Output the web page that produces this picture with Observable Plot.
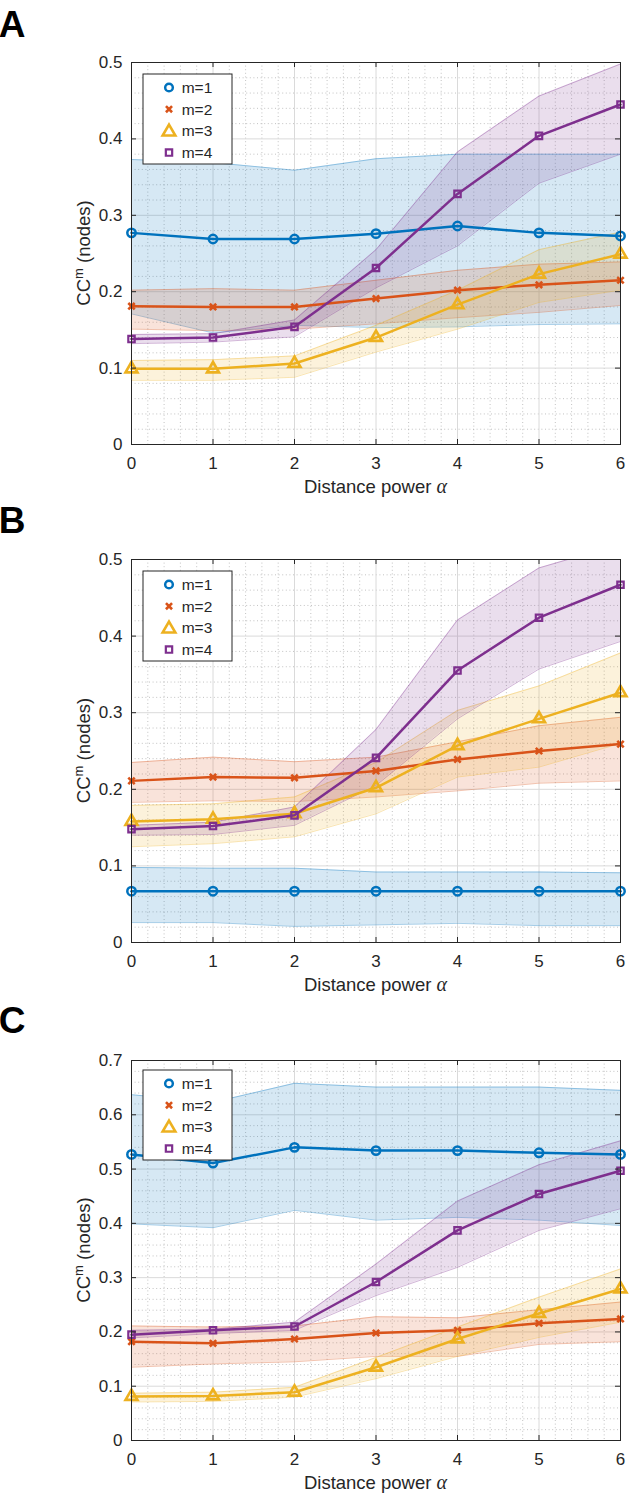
<!DOCTYPE html>
<html><head><meta charset="utf-8">
<script src="https://cdn.jsdelivr.net/npm/d3@7"></script>
<script src="https://cdn.jsdelivr.net/npm/@observablehq/plot@0.6"></script>
<style>
body{margin:0;background:#fff;}
#chart{width:629px;}
#chart svg{display:block;overflow:visible;}
</style></head><body><div id="chart"></div>
<script>
// ---- shared categories / labels ----
const alphas = [0, 1, 2, 3, 4, 5, 6];
const seriesNames = ["m=1", "m=2", "m=3", "m=4"];
const colors = ["#0072BD", "#D95319", "#EDB120", "#7E2F8E"];
const symbols = ["circle", "times", "triangle", "square"];
const xTicks = [0, 1, 2, 3, 4, 5, 6];
const yTicksAB = [0, 0.1, 0.2, 0.3, 0.4, 0.5];
const yTicksC = [0, 0.1, 0.2, 0.3, 0.4, 0.5, 0.6, 0.7];
const xLabel = "Distance power";
const yLabel = ["CC", "m", " (nodes)"];

// ---- Panel A ----
const A_mean = [
  [0.277, 0.269, 0.269, 0.276, 0.286, 0.277, 0.273],
  [0.181, 0.180, 0.180, 0.191, 0.202, 0.209, 0.215],
  [0.099, 0.099, 0.106, 0.140, 0.183, 0.223, 0.249],
  [0.138, 0.140, 0.154, 0.231, 0.328, 0.404, 0.445]
];
const A_lower = [
  [0.171, 0.146, 0.156, 0.153, 0.154, 0.157, 0.158],
  [0.151, 0.149, 0.151, 0.158, 0.166, 0.173, 0.182],
  [0.084, 0.084, 0.088, 0.121, 0.151, 0.186, 0.202],
  [0.132, 0.134, 0.141, 0.205, 0.260, 0.342, 0.380]
];
const A_upper = [
  [0.373, 0.369, 0.359, 0.374, 0.380, 0.380, 0.380],
  [0.202, 0.204, 0.202, 0.215, 0.228, 0.236, 0.239],
  [0.110, 0.111, 0.116, 0.156, 0.202, 0.255, 0.278],
  [0.144, 0.145, 0.163, 0.255, 0.383, 0.456, 0.498]
];

// ---- Panel B ----
const B_mean = [
  [0.067, 0.067, 0.067, 0.067, 0.067, 0.067, 0.067],
  [0.211, 0.216, 0.215, 0.224, 0.239, 0.250, 0.259],
  [0.158, 0.161, 0.168, 0.202, 0.257, 0.292, 0.326],
  [0.148, 0.152, 0.166, 0.241, 0.355, 0.424, 0.467]
];
const B_lower = [
  [0.026, 0.026, 0.021, 0.023, 0.025, 0.022, 0.022],
  [0.183, 0.185, 0.184, 0.190, 0.198, 0.208, 0.211],
  [0.125, 0.129, 0.138, 0.168, 0.216, 0.229, 0.260],
  [0.140, 0.141, 0.153, 0.205, 0.292, 0.357, 0.393]
];
const B_upper = [
  [0.098, 0.097, 0.097, 0.092, 0.092, 0.092, 0.091],
  [0.235, 0.242, 0.236, 0.242, 0.262, 0.283, 0.294],
  [0.179, 0.181, 0.190, 0.235, 0.303, 0.335, 0.378],
  [0.153, 0.157, 0.177, 0.278, 0.421, 0.489, 0.520]
];

// ---- Panel C ----
const C_mean = [
  [0.527, 0.511, 0.540, 0.534, 0.534, 0.530, 0.527],
  [0.182, 0.179, 0.187, 0.198, 0.203, 0.216, 0.224],
  [0.081, 0.082, 0.089, 0.135, 0.187, 0.234, 0.279],
  [0.195, 0.203, 0.210, 0.292, 0.387, 0.454, 0.497]
];
const C_lower = [
  [0.399, 0.392, 0.424, 0.406, 0.411, 0.406, 0.396],
  [0.135, 0.141, 0.145, 0.155, 0.155, 0.177, 0.182],
  [0.071, 0.072, 0.080, 0.114, 0.155, 0.190, 0.218],
  [0.189, 0.197, 0.203, 0.267, 0.319, 0.387, 0.427]
];
const C_upper = [
  [0.637, 0.623, 0.658, 0.651, 0.651, 0.651, 0.645],
  [0.211, 0.209, 0.211, 0.228, 0.226, 0.241, 0.255],
  [0.087, 0.089, 0.098, 0.153, 0.209, 0.264, 0.316],
  [0.203, 0.205, 0.218, 0.325, 0.441, 0.508, 0.552]
];

const FONT = "'Liberation Sans', Arial, Helvetica, sans-serif";
const INK = "#262626";
const W = 629, ML = 131, MR = 9;
const PW = W - ML - MR;
const dotR = [4.2, 3.0, 4.4, 3.6];
const dotSW = [2.5, 2.6, 2.7, 2.2];
const legendSym = [d3.symbolCircle, d3.symbolTimes, d3.symbolTriangle, d3.symbolSquare];
const legendSize = [46, 26, 70, 40];
const legendSW = [2.5, 2.6, 2.6, 2.2];

function isMinor(v, step) { return Math.abs(v / step - Math.round(v / step)) > 1e-6; }

function panel(cfg) {
  const {mean, lower, upper, yMax, yTicks, mt, mb, h, letter, letterY, legendTop} = cfg;
  const PH = h - mt - mb;
  const xMinor = d3.range(0, 6.0001, 0.2).filter(v => isMinor(v, 1));
  const yMinor = d3.range(0, yMax + 0.0001, 0.02).filter(v => isMinor(v, 0.1));
  const rows = [];
  seriesNames.forEach((s, i) => alphas.forEach((a, j) =>
    rows.push({s, i, a, m: mean[i][j], lo: lower[i][j], hi: upper[i][j]})));

  const marks = [
    Plot.ruleX(xMinor, {stroke: "#9a9a9a", strokeWidth: 0.8, strokeDasharray: "1,2.6", strokeOpacity: 0.75}),
    Plot.ruleY(yMinor, {stroke: "#9a9a9a", strokeWidth: 0.8, strokeDasharray: "1,2.6", strokeOpacity: 0.75}),
    Plot.ruleX(xTicks, {stroke: "#dadada", strokeWidth: 1}),
    Plot.ruleY(yTicks, {stroke: "#dadada", strokeWidth: 1})
  ];
  seriesNames.forEach((s, i) => {
    const d = rows.filter(r => r.i === i);
    marks.push(Plot.areaY(d, {x: "a", y1: "lo", y2: "hi", fill: colors[i], fillOpacity: 0.16, clip: true}));
    marks.push(Plot.lineY(d, {x: "a", y: "lo", stroke: colors[i], strokeOpacity: 0.35, strokeWidth: 1, clip: true}));
    marks.push(Plot.lineY(d, {x: "a", y: "hi", stroke: colors[i], strokeOpacity: 0.35, strokeWidth: 1, clip: true}));
  });
  seriesNames.forEach((s, i) => {
    const d = rows.filter(r => r.i === i);
    marks.push(Plot.lineY(d, {x: "a", y: "m", stroke: colors[i], strokeWidth: 2.5}));
    marks.push(Plot.dot(d, {x: "a", y: "m", symbol: symbols[i], r: dotR[i], stroke: colors[i], strokeWidth: dotSW[i], fill: "none"}));
  });
  marks.push(
    Plot.frame({stroke: INK, strokeWidth: 1}),
    Plot.tickX(xTicks, {insetTop: PH - 5, stroke: INK}),
    Plot.tickX(xTicks, {insetBottom: PH - 5, stroke: INK}),
    Plot.tickY(yTicks, {insetRight: PW - 5, stroke: INK}),
    Plot.tickY(yTicks, {insetLeft: PW - 5, stroke: INK}),
    Plot.axisX(xTicks, {tickSize: 0, tickPadding: 12, fontSize: 17, label: null, tickFormat: d => String(d)}),
    Plot.axisY(yTicks, {tickSize: 0, tickPadding: 9, fontSize: 17, label: null, tickFormat: d => String(d)}),
    // axis titles, panel letter, legend
    () => {
      const g = d3.create("svg:g").attr("font-family", FONT).attr("fill", INK);
      g.append("text").attr("x", 12).attr("y", letterY).attr("font-size", 37).attr("font-weight", "bold")
        .attr("fill", "#000").text(letter);
      const xt = g.append("text").attr("x", ML + PW / 2).attr("y", mt + PH + 49)
        .attr("text-anchor", "middle").attr("font-size", 18.5);
      xt.append("tspan").text(xLabel + " ");
      xt.append("tspan").attr("font-family", "'Liberation Serif', 'DejaVu Serif', serif")
        .attr("font-style", "italic").attr("font-size", 20).text("α");
      const yt = g.append("text").attr("transform", `translate(${ML - 41},${mt + PH / 2}) rotate(-90)`)
        .attr("text-anchor", "middle").attr("font-size", 18.5);
      yt.append("tspan").text(yLabel[0]);
      yt.append("tspan").attr("font-size", 13).attr("dy", -7.5).text(yLabel[1]);
      yt.append("tspan").attr("dy", 7.5).text(yLabel[2]);
      // legend
      const x0 = ML + 12, y0 = mt + legendTop;
      g.append("rect").attr("x", x0).attr("y", y0).attr("width", 89).attr("height", 90)
        .attr("fill", "white").attr("stroke", INK).attr("stroke-width", 1);
      seriesNames.forEach((name, i) => {
        const cy = y0 + 13.5 + i * 21.7;
        g.append("path").attr("transform", `translate(${x0 + 26},${cy + (i === 2 ? 1 : 0)})`)
          .attr("d", d3.symbol(legendSym[i], legendSize[i])())
          .attr("fill", "none").attr("stroke", colors[i]).attr("stroke-width", legendSW[i]);
        g.append("text").attr("x", x0 + 54).attr("y", cy).attr("dy", "0.36em")
          .attr("font-size", 15.5).text(name);
      });
      return g.node();
    }
  );

  return Plot.plot({
    width: W, height: h,
    marginTop: mt, marginBottom: mb, marginLeft: ML, marginRight: MR,
    x: {domain: [0, 6]},
    y: {domain: [0, yMax]},
    style: {fontFamily: FONT, fontSize: "17px", color: INK, background: "white", overflow: "visible"},
    marks
  });
}

const root = document.getElementById("chart");
root.append(panel({mean: A_mean, lower: A_lower, upper: A_upper, yMax: 0.5, yTicks: yTicksAB,
  mt: 62, mb: 53, h: 497, letter: "A", letterY: 37, legendTop: 12}));
root.append(panel({mean: B_mean, lower: B_lower, upper: B_upper, yMax: 0.5, yTicks: yTicksAB,
  mt: 62, mb: 52, h: 497, letter: "B", letterY: 36, legendTop: 12}));
root.append(panel({mean: C_mean, lower: C_lower, upper: C_upper, yMax: 0.7, yTicks: yTicksC,
  mt: 66, mb: 61, h: 507, letter: "C", letterY: 39, legendTop: 10}));
</script>
</body></html>
